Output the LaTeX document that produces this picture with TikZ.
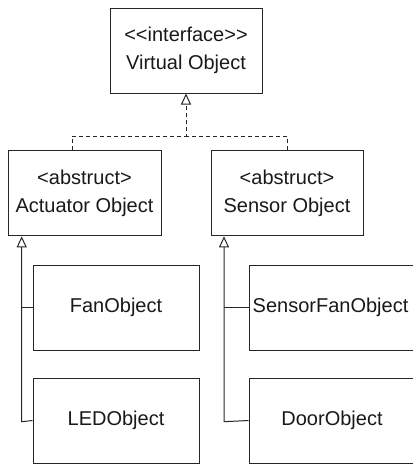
\documentclass[tikz,border=0pt]{standalone}
\usepackage{fontspec}
\setmainfont{Liberation Sans}
\usetikzlibrary{arrows.meta,calc}
\begin{document}
\begin{tikzpicture}[x=1pt,y=-1pt,
  cls/.style={draw=black!85,line width=1pt,fill=white,rectangle,inner sep=0pt,
    align=center,font=\fontsize{20}{28}\selectfont,text=black!90},
  inh/.style={line width=1pt,draw=black!85,-{Triangle[open,length=11pt,width=10pt,line width=1pt]}},
  real/.style={inh,dash pattern=on 4pt off 3pt}]
\useasboundingbox (0,0) rectangle (413,464);
\node[cls,minimum width=152pt,minimum height=85pt] (top) at (186,50.5) {<{}<interface>{}>\\Virtual Object};
\node[cls,minimum width=153pt,minimum height=85pt] (act) at (84.5,193.3) {<abstruct>\\Actuator Object};
\node[cls,minimum width=152pt,minimum height=85pt] (sen) at (287,193.3) {<abstruct>\\Sensor Object};
\node[cls,minimum width=166pt,minimum height=85pt] (fan) at (116,307.5) {FanObject};
\node[cls,minimum width=166pt,minimum height=85pt] (led) at (116,420.5) {LEDObject};
\node[cls,minimum width=166pt,minimum height=85pt] (sfan) at (332,307.5) {};
\node[anchor=west,inner sep=0pt,font=\fontsize{20}{28}\selectfont,text=black!90] (sfant) at (252.5,307.5) {SensorFanObject};
\node[cls,minimum width=166pt,minimum height=85pt] (door) at (332,420.5) {DoorObject};
\coordinate (jn) at (186,136.7);
\coordinate (aj) at (72,136.7);
\draw[real] (act.north -| aj) -- (aj) -- (jn) -- (top.south);
\draw[line width=1pt,draw=black!85,dash pattern=on 4pt off 3pt] (sen.north) |- (jn);
\coordinate (la) at (21.7,421.7);
\coordinate (ra) at (224,421.7);
\draw[inh] (led.west) -- (la) -- (act.south -| la);
\draw[line width=1pt,draw=black!85] (fan.west) -- (fan.west -| la);
\draw[inh] (door.west) -- (ra) -- (sen.south -| ra);
\draw[line width=1pt,draw=black!85] (sfan.west) -- (sfan.west -| ra);
\end{tikzpicture}
\end{document}
